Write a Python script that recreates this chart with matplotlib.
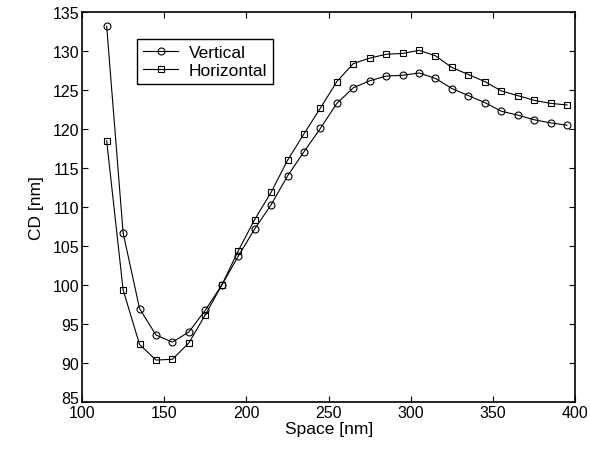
import matplotlib
matplotlib.use("Agg")
import matplotlib.pyplot as plt
import matplotlib.transforms as mtransforms

plt.rcParams["font.family"] = ["Liberation Sans", "DejaVu Sans"]

space = [115, 125, 135, 145, 155, 165, 175, 185, 195, 205, 215, 225, 235, 245, 255,
         265, 275, 285, 295, 305, 315, 325, 335, 345, 355, 365, 375, 385, 395]
vertical = [133.2, 106.7, 97.0, 93.6, 92.7, 94.0, 96.8, 100.0, 103.7, 107.2, 110.3,
            114.0, 117.1, 120.1, 123.3, 125.3, 126.2, 126.8, 126.9, 127.2, 126.5,
            125.2, 124.3, 123.4, 122.3, 121.8, 121.2, 120.8, 120.5]
horizontal = [118.5, 99.4, 92.4, 90.4, 90.5, 92.6, 96.2, 100.0, 104.4, 108.4, 111.9,
              116.0, 119.4, 122.7, 126.1, 128.4, 129.1, 129.6, 129.7, 130.1, 129.4,
              127.9, 127.0, 126.1, 124.9, 124.3, 123.7, 123.3, 123.1]

fig = plt.figure(figsize=(5.9, 4.52), dpi=100)
ax = fig.add_axes([0.139, 0.108, 0.836, 0.863])

ax.plot(space, vertical, "k-", marker="o", mfc="none", ms=5, mew=0.8, lw=0.8, label="Vertical")
ax.plot(space, horizontal, "k-", marker="s", mfc="none", ms=4, mew=0.8, lw=0.8, label="Horizontal")

ax.set_xlim(100, 400)
ax.set_ylim(85, 135)
ax.set_xticks(range(100, 401, 50))
ax.set_yticks(range(85, 136, 5))
ax.tick_params(direction="in", length=4, labelsize=11.5, pad=2, top=True, right=True)
for s in ax.spines.values():
    s.set_linewidth(1.2)

# lift the bottom y label a little, like the reference
lbl = ax.get_yticklabels()[0]
lbl.set_transform(lbl.get_transform() + mtransforms.ScaledTranslation(0, 4 / 72, fig.dpi_scale_trans))

ax.set_xlabel("Space [nm]", fontsize=12.5, labelpad=1)
ax.set_ylabel("CD [nm]", fontsize=12.5, labelpad=6)

leg = ax.legend(loc="upper left", bbox_to_anchor=(0.112, 0.931), fontsize=12.5,
                frameon=True, fancybox=False, edgecolor="black", framealpha=1,
                handlelength=2.0, handletextpad=0.6, borderpad=0.35, labelspacing=0.15,
                borderaxespad=0)
leg.get_frame().set_linewidth(1.0)

fig.savefig("out.png", dpi=100)
